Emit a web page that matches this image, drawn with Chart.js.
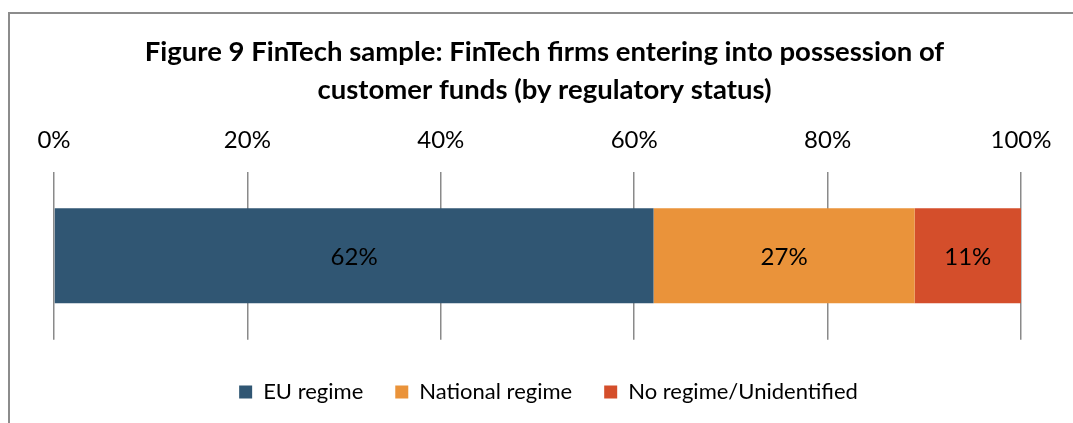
<!DOCTYPE html>
<html>
<head>
<meta charset="utf-8">
<script src="https://cdn.jsdelivr.net/npm/chart.js@4/dist/chart.umd.min.js"></script>
<style>
html,body{margin:0;padding:0;background:#fff;}
#wrap{position:relative;width:1073px;height:423px;overflow:hidden;}
#frame{position:absolute;left:8px;top:12px;width:1100px;height:450px;border-left:2px solid #8c8c8c;border-top:2px solid #8c8c8c;pointer-events:none;}
canvas{position:absolute;left:0;top:0;}
</style>
</head>
<body>
<div id="wrap">
<canvas id="chart" width="1073" height="423"></canvas>
<div id="frame"></div>
</div>
<script>
const FONT='Lato';
const categories=['FinTech firms'];
const seriesNames=['EU regime','National regime','No regime/Unidentified'];
const euValues=[62];
const nationalValues=[27];
const noRegimeValues=[11];
const seriesColors=['#305673','#EA933A','#D44E2B'];
const titleLines=['Figure 9 FinTech sample: FinTech firms entering into possession of','customer funds (by regulatory status)'];

// labels centred in each bar segment
const barLabels={
  id:'barLabels',
  afterDatasetsDraw(c){
    const ctx=c.ctx;
    ctx.save();
    ctx.font='24px '+FONT;
    ctx.fillStyle='#000';
    ctx.textAlign='center';ctx.textBaseline='middle';
    c.data.datasets.forEach((ds,i)=>{
      c.getDatasetMeta(i).data.forEach((bar,j)=>{
        const p=bar.getProps(['x','y','base'],true);
        ctx.fillText(ds.data[j]+'%',(p.x+p.base)/2,p.y+1);
      });
    });
    ctx.restore();
  }
};

// nudge title and legend a bit right, like the original
const nudge={
  id:'nudge',
  afterLayout(c){
    if(c.titleBlock){c.titleBlock.left+=7;c.titleBlock.right+=7;}
    if(c.legend){c.legend.left+=11;c.legend.right+=11;}
  }
};

new Chart(document.getElementById('chart'),{
  type:'bar',
  data:{
    labels:categories,
    datasets:[
      {label:seriesNames[0],data:euValues,backgroundColor:seriesColors[0]},
      {label:seriesNames[1],data:nationalValues,backgroundColor:seriesColors[1]},
      {label:seriesNames[2],data:noRegimeValues,backgroundColor:seriesColors[2]}
    ]
  },
  options:{
    indexAxis:'y',
    responsive:false,
    animation:false,
    layout:{padding:{left:54,right:52,top:0,bottom:10}},
    datasets:{bar:{categoryPercentage:1,barPercentage:95/168}},
    scales:{
      x:{
        position:'top',stacked:true,min:0,max:100,
        border:{display:false},
        grid:{color:'#8a8a8a',lineWidth:1.5,drawTicks:false},
        ticks:{stepSize:20,padding:17,color:'#000',font:{family:FONT,size:24},callback:v=>v+'%'}
      },
      y:{stacked:true,display:false}
    },
    plugins:{
      title:{display:true,text:titleLines,color:'#000',font:{family:FONT,size:27.5,weight:'bold',lineHeight:38/27.5},padding:{top:33,bottom:0}},
      legend:{
        position:'bottom',
        title:{display:true,text:'',font:{size:1},padding:{top:0,bottom:8}},
        labels:{boxWidth:13,boxHeight:13,padding:32,color:'#000',font:{family:FONT,size:22}}
      },
      tooltip:{enabled:false}
    }
  },
  plugins:[barLabels,nudge]
});
</script>
</body>
</html>
